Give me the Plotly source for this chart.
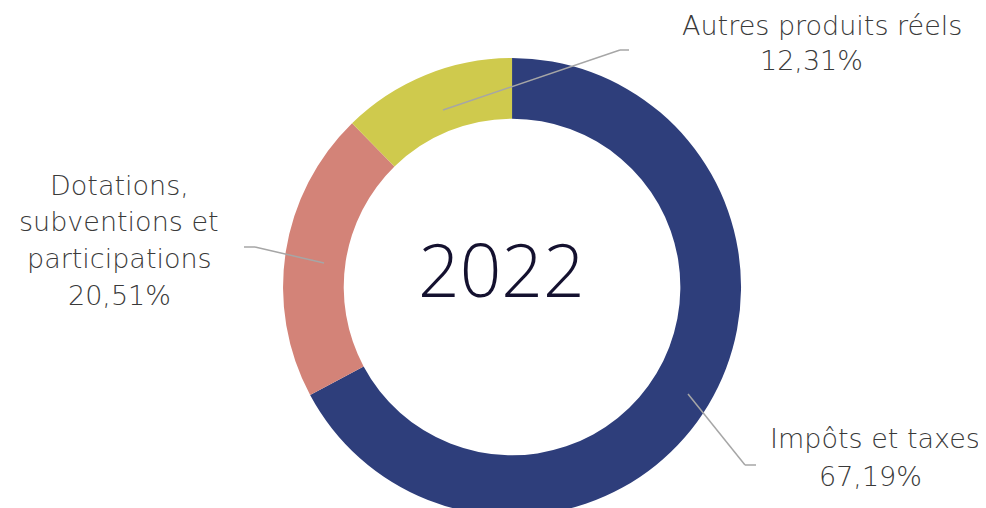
import plotly.graph_objects as go

W, H = 986, 508

categories = ["Impôts et taxes", "Dotations, subventions et participations", "Autres produits réels"]
values = [67.19, 20.51, 12.31]
value_labels = ["67,19%", "20,51%", "12,31%"]
colors = ["#2E3E7B", "#D38378", "#CFCA4D"]
center_title = "2022"

def px(x):
    return x / W

def py(y):
    return 1 - y / H

fig = go.Figure()
fig.add_trace(go.Pie(
    labels=categories,
    values=values,
    hole=0.735,
    sort=False,
    direction="clockwise",
    rotation=0,
    textinfo="none",
    hoverinfo="label+percent",
    marker=dict(colors=colors, line=dict(width=0)),
    domain=dict(x=[0.0305, 0.9919], y=[0, 1 - 50 / H]),
    showlegend=False,
))

font_fam = "DejaVu Sans"
label_color = "#3a3a3a"
lbl_size = 27
dx = -7  # compensation for rendered glyph offset

# (lines, anchor x, anchor, first-line y, spacing)
label_specs = [
    (["Impôts et taxes", value_labels[0]], [(981, "right"), (869, "center")], 430, 38),
    (["Dotations,", "subventions et", "participations", value_labels[1]],
     [(118, "center")] * 4, 177.5, 36.5),
    (["Autres produits réels", value_labels[2]], [(963, "right"), (810, "center")], 17, 35),
]
ann = []
for lines, anchors, y0, dy in label_specs:
    for i, t in enumerate(lines):
        ax, xa = anchors[i]
        ann.append(dict(x=px(ax + dx), y=py(y0 + i * dy), xref="paper", yref="paper",
                        text=t, showarrow=False, xanchor=xa, yanchor="middle",
                        font=dict(family=font_fam, size=lbl_size, color=label_color, weight=300)))
ann.append(dict(x=px(493), y=py(260), xref="paper", yref="paper", text=center_title,
                showarrow=False, xanchor="center", yanchor="middle",
                font=dict(family="Open Sans", size=73, color="#14112F", weight=300)))

leaders = [
    [(680, 386), (737, 457), (748, 457)],
    [(316, 255), (247, 239), (236, 239)],
    [(435, 102), (612, 42), (621, 42)],
]
shapes = []
for pts in leaders:
    for (x0, y0), (x1, y1) in zip(pts[:-1], pts[1:]):
        shapes.append(dict(type="line", xref="paper", yref="paper",
                           x0=px(x0), y0=py(y0), x1=px(x1), y1=py(y1),
                           line=dict(color="#A6A6A6", width=1.5)))

fig.update_layout(
    width=W, height=H,
    margin=dict(l=0, r=0, t=0, b=0),
    paper_bgcolor="white", plot_bgcolor="white",
    annotations=ann, shapes=shapes,
)
fig.write_html("out.html")
